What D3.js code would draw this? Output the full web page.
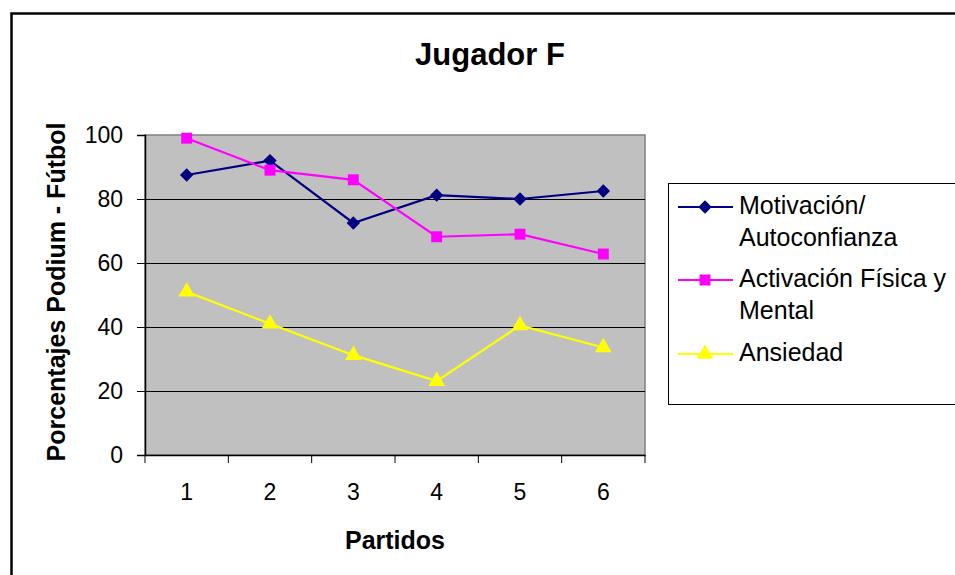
<!DOCTYPE html>
<html>
<head>
<meta charset="utf-8">
<script src="https://cdn.jsdelivr.net/npm/d3@7/dist/d3.min.js"></script>
<style>
  html, body { margin: 0; padding: 0; background: #fff; }
  svg { display: block; font-family: Arial, "Liberation Sans", sans-serif; }
</style>
</head>
<body>
<svg id="chart" width="955" height="575"></svg>
<script>
// Match numbers (x categories)
const partidos = ["1", "2", "3", "4", "5", "6"];
// Series values, in percent
const motivacion = [87.5, 92, 72.5, 81.2, 80, 82.5];
const activacion = [99, 89, 86, 68.2, 69, 62.8];
const ansiedad = [51, 41, 31.2, 23.1, 40.5, 33.6];
const yTicks = [0, 20, 40, 60, 80, 100];

const seriesNames = ["Motivación/\nAutoconfianza", "Activación Física y\nMental", "Ansiedad"];
const seriesColors = ["#000080", "#FF00FF", "#FFFF00"];
const seriesData = [motivacion, activacion, ansiedad];

// Marker shapes: rotated square (diamond), square, triangle
const markerPath = [
  d3.symbol().type(d3.symbolSquare).size(90)(),
  d3.symbol().type(d3.symbolSquare).size(120)(),
  d3.symbol().type(d3.symbolTriangle).size(120)()
];
const markerRotate = [45, 0, 0];

const svg = d3.select("#chart");

// Outer chart frame
svg.append("rect")
  .attr("x", 11.5).attr("y", 13.5)
  .attr("width", 1000).attr("height", 1000)
  .attr("fill", "#fff").attr("stroke", "#000").attr("stroke-width", 2.5);

const plot = { left: 145, top: 135, right: 645, bottom: 455 };

const x = d3.scaleBand().domain(partidos).range([plot.left, plot.right]);
const y = d3.scaleLinear().domain([0, 100]).range([plot.bottom, plot.top]);

// Plot area
svg.append("rect")
  .attr("x", plot.left).attr("y", plot.top)
  .attr("width", plot.right - plot.left).attr("height", plot.bottom - plot.top)
  .attr("fill", "#C0C0C0").attr("stroke", "#808080").attr("stroke-width", 1.5);

// Horizontal gridlines
svg.append("g").selectAll("line")
  .data(yTicks.filter(t => t > 0 && t < 100))
  .join("line")
  .attr("x1", plot.left).attr("x2", plot.right)
  .attr("y1", d => y(d) + 0.5).attr("y2", d => y(d) + 0.5)
  .attr("stroke", "#000").attr("stroke-width", 1);

// Y axis
const yAxis = svg.append("g")
  .attr("transform", `translate(${plot.left},0)`)
  .call(d3.axisLeft(y).tickValues(yTicks).tickSize(8).tickPadding(14));
yAxis.select(".domain").attr("stroke", "#000").attr("stroke-width", 1.5);
yAxis.selectAll(".tick line").attr("stroke", "#000");
yAxis.selectAll(".tick text")
  .attr("font-size", 23).attr("fill", "#000")
  .attr("font-family", "Arial, 'Liberation Sans', sans-serif");

// X axis: ticks on category boundaries, labels at centres
const xAxis = svg.append("g")
  .attr("transform", `translate(0,${plot.bottom})`)
  .call(d3.axisBottom(x).tickSize(0).tickPadding(29));
xAxis.select(".domain").attr("stroke", "#000").attr("stroke-width", 1.5);
xAxis.selectAll(".tick text")
  .attr("font-size", 23).attr("fill", "#000")
  .attr("font-family", "Arial, 'Liberation Sans', sans-serif");
xAxis.append("g").selectAll("line")
  .data(partidos.map(p => x(p)).concat([x(partidos[partidos.length - 1]) + x.bandwidth()]))
  .join("line")
  .attr("x1", d => d).attr("x2", d => d)
  .attr("y1", 0).attr("y2", 8)
  .attr("stroke", "#000").attr("stroke-width", 1);

const cx = d => x(d) + x.bandwidth() / 2;

// Series lines and markers
seriesData.forEach((vals, i) => {
  const pts = partidos.map((p, j) => [cx(p), y(vals[j])]);
  svg.append("path")
    .attr("d", d3.line()(pts))
    .attr("fill", "none")
    .attr("stroke", seriesColors[i])
    .attr("stroke-width", 2.2);
  svg.append("g").selectAll("path")
    .data(pts)
    .join("path")
    .attr("transform", d => `translate(${d[0]},${d[1]}) rotate(${markerRotate[i]})`)
    .attr("d", markerPath[i])
    .attr("fill", seriesColors[i]);
});

// Title
svg.append("text")
  .attr("x", 490).attr("y", 65)
  .attr("text-anchor", "middle")
  .attr("font-size", 31).attr("font-weight", "bold")
  .text("Jugador F");

// Axis titles
svg.append("text")
  .attr("x", 395).attr("y", 549)
  .attr("text-anchor", "middle")
  .attr("font-size", 25).attr("font-weight", "bold")
  .text("Partidos");

svg.append("text")
  .attr("transform", "translate(65,292) rotate(-90)")
  .attr("text-anchor", "middle")
  .attr("font-size", 25).attr("font-weight", "bold")
  .text("Porcentajes Podium - Fútbol");

// Legend
const legend = svg.append("g");
legend.append("rect")
  .attr("x", 668.5).attr("y", 183.5)
  .attr("width", 400).attr("height", 221)
  .attr("fill", "#fff").attr("stroke", "#000").attr("stroke-width", 1);

const legendRows = [207, 280, 354];
seriesNames.forEach((name, i) => {
  const ly = legendRows[i];
  legend.append("line")
    .attr("x1", 678).attr("x2", 733)
    .attr("y1", ly).attr("y2", ly)
    .attr("stroke", seriesColors[i]).attr("stroke-width", 2);
  legend.append("path")
    .attr("transform", `translate(705,${ly}) rotate(${markerRotate[i]})`)
    .attr("d", markerPath[i])
    .attr("fill", seriesColors[i]);
  const t = legend.append("text")
    .attr("x", 739).attr("y", ly + 7)
    .attr("font-size", 25);
  name.split("\n").forEach((line, k) => {
    t.append("tspan").attr("x", 739).attr("dy", k === 0 ? 0 : 32).text(line);
  });
});
</script>
</body>
</html>
